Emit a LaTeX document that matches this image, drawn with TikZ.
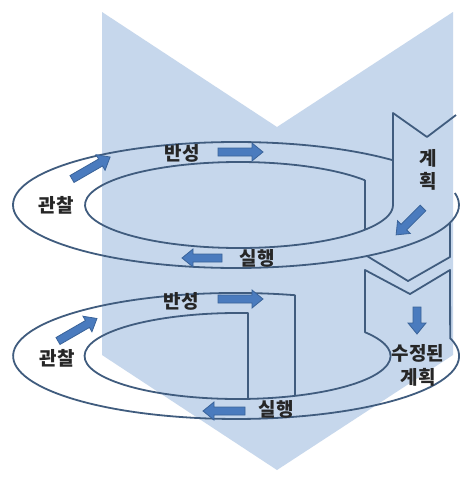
\documentclass[tikz,border=0pt]{standalone}
\usepackage{fontspec}
\newfontfamily\kr{Noto Sans CJK KR}
\definecolor{chev}{HTML}{C6D7EC}
\definecolor{ln}{HTML}{405C7E}
\definecolor{arf}{HTML}{4A7BBE}
\definecolor{arl}{HTML}{3A6399}
\tikzset{
  lbl/.style={font=\kr\bfseries\fontsize{19}{23}\selectfont, text=black!85, inner sep=0pt, align=center},
  ring/.style={draw=ln, line width=1.8pt, line join=round},
  pics/barrow/.style={code={
    \filldraw[fill=arf, draw=arl, line width=0.8pt, line join=miter]
      (0,-4) -- (#1-11,-4) -- (#1-11,-9) -- (#1,0) -- (#1-11,9) -- (#1-11,4) -- (0,4) -- cycle;}}
}
\begin{document}
\begin{tikzpicture}[x=1pt,y=-1pt]
\useasboundingbox (0,0) rectangle (459,491);
\fill[white] (0,0) rectangle (459,491);
% big chevron
\fill[chev] (102,12) -- (277,127) -- (453,12) -- (453,355) -- (277,470) -- (102,355) -- cycle;
% centres
\coordinate (c1) at (236,205);
\coordinate (ci1) at (239,205);
\coordinate (c2) at (236,356);
\coordinate (ci2) at (237.5,356);
% ---- upper ring ----
\draw[ring] (c1) ++(45.3:223pt and 63pt) arc[start angle=45.3, end angle=371, x radius=223pt, y radius=63pt];
\draw[ring] (ci1) ++(35.1:154pt and 43pt) arc[start angle=35.1, end angle=360, x radius=154pt, y radius=43pt] -- (393,113) -- (427,137) -- (456,115);
\draw[ring] (365,180.3) -- (365,229.7);
\draw[ring] (450,222.6) -- (450,257) -- (408,281) -- (367,256);
% ---- lower ring ----
\draw[ring] (295,395.9) -- (295,295.2) arc[start angle=74.7, end angle=376.3, x radius=223pt, y radius=63pt] -- (450,270) -- (410,294) -- (365,270) -- (365,332.2) arc[start angle=33.6, end angle=-273.9, x radius=153pt, y radius=43pt] -- (248,398.9);
% arrows
\pic[rotate=30] at (72,179) {barrow=44};
\pic at (218,152) {barrow=45};
\pic[rotate=-135] at (423,208) {barrow=38};
\pic[rotate=180] at (222,258) {barrow=40};
\pic[rotate=30] at (58,341) {barrow=45};
\pic at (218,299) {barrow=45};
\pic[rotate=-90] at (417,307) {barrow=27};
\pic[rotate=180] at (245,411) {barrow=42};
% labels
\node[lbl] (obs1) at (56,205) {관찰};
\node[lbl] (ref1) at (182,153) {반성};
\node[lbl] (plan1) at (428,170) {계\\획};
\node[lbl] (act1) at (257,258) {실행};
\node[lbl] (obs2) at (57,358) {관찰};
\node[lbl] (ref2) at (181,301) {반성};
\node[lbl, font=\kr\bfseries\fontsize{19}{24}\selectfont] (plan2) at (418,365) {수정된\\계획};
\node[lbl] (act2) at (276,409) {실행};
\end{tikzpicture}
\end{document}
